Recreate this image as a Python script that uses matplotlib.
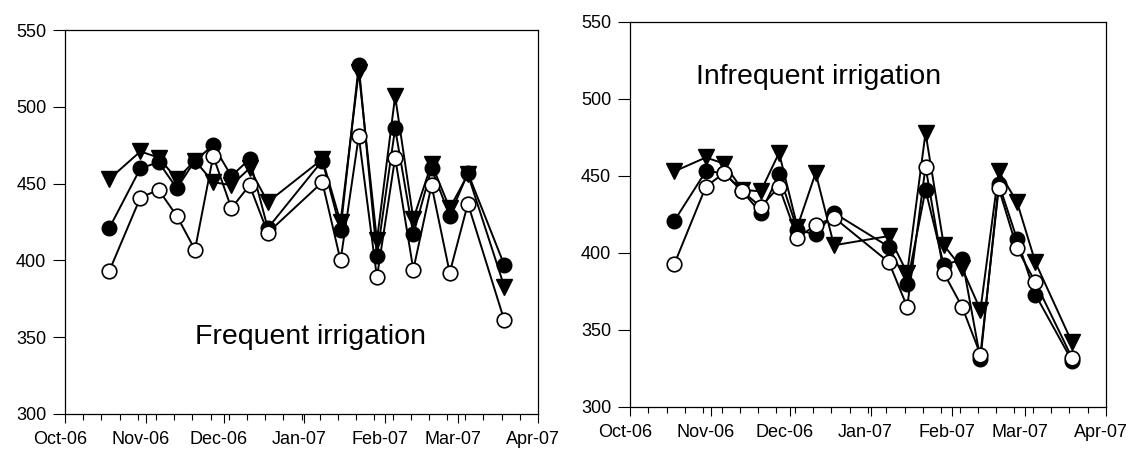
import pandas as pd
import matplotlib
matplotlib.use('Agg')
import matplotlib.pyplot as plt
import matplotlib.dates as mdates
from matplotlib.transforms import ScaledTranslation

plt.rcParams['font.family'] = ['Liberation Sans', 'DejaVu Sans']

# sampling dates (same for both treatments)
dates = ['2006-10-18', '2006-10-30', '2006-11-06', '2006-11-13', '2006-11-20',
         '2006-11-27', '2006-12-04', '2006-12-11', '2006-12-18', '2007-01-08',
         '2007-01-15', '2007-01-22', '2007-01-29', '2007-02-05', '2007-02-12',
         '2007-02-19', '2007-02-26', '2007-03-05', '2007-03-19']

# frequent irrigation
freq_tri = [453, 471, 467, 453, 465, 451, 449, 460, 438, 466,
            425, 523, 413, 507, 427, 463, 434, 456, 383]
freq_filled = [421, 460, 464, 447, 465, 475, 455, 466, 421, 465,
               420, 527, 403, 486, 417, 460, 429, 457, 397]
freq_open = [393, 441, 446, 429, 407, 468, 434, 449, 418, 451,
             400, 481, 389, 467, 394, 449, 392, 437, 361]

# infrequent irrigation
infreq_tri = [453, 462, 458, 441, 440, 465, 417, 452, 405, 411,
              387, 478, 405, 390, 363, 453, 433, 394, 342]
infreq_filled = [421, 453, 452, 440, 426, 451, 415, 412, 426, 404,
                 380, 441, 392, 396, 331, 445, 409, 373, 330]
infreq_open = [393, 443, 452, 440, 430, 443, 410, 418, 423, 394,
               365, 456, 387, 365, 334, 442, 403, 381, 332]

x = pd.to_datetime(dates)

fig = plt.figure(figsize=(11.29, 4.5), dpi=100)
ax1 = fig.add_axes([0.0576, 0.080, 0.419, 0.853])
ax2 = fig.add_axes([0.558, 0.0956, 0.4216, 0.8556])


def draw(ax, tri, filled, opn, label, tx, ty):
    ax.plot(x, tri, '-v', color='black', lw=1.4, ms=11, mfc='black',
            mec='black', zorder=2)
    ax.plot(x, filled, '-o', color='black', lw=1.4, ms=10.5, mfc='black',
            mec='black', zorder=3)
    ax.plot(x, opn, '-o', color='black', lw=1.4, ms=10.5, mfc='white',
            mec='black', mew=1.2, zorder=4)
    ax.set_ylim(300, 550)
    ax.set_yticks([300, 350, 400, 450, 500, 550])
    ax.set_xlim(pd.Timestamp('2006-10-01'), pd.Timestamp('2007-04-01'))
    ax.xaxis.set_major_locator(mdates.MonthLocator())
    ax.xaxis.set_major_formatter(mdates.DateFormatter('%b-%y'))
    ax.xaxis.set_minor_locator(mdates.WeekdayLocator(byweekday=mdates.SU))
    ax.tick_params(axis='x', which='major', direction='out', length=6.5,
                   width=0.8, labelsize=13, pad=5.5)
    ax.tick_params(axis='x', which='minor', direction='out', length=4,
                   width=0.8)
    ax.tick_params(axis='y', direction='out', length=8.5, width=0.8,
                   labelsize=13, pad=5)
    for s in ax.spines.values():
        s.set_linewidth(0.9)
    # month labels sit a little left of their ticks
    shift = ScaledTranslation(-0.05, 0, fig.dpi_scale_trans)
    for lab in ax.get_xticklabels():
        lab.set_transform(lab.get_transform() + shift)
    ax.text(tx, ty, label, transform=ax.transAxes, fontsize=20.5,
            ha='center', va='center')


draw(ax1, freq_tri, freq_filled, freq_open, 'Frequent irrigation', 0.518, 0.2)
draw(ax2, infreq_tri, infreq_filled, infreq_open, 'Infrequent irrigation', 0.397, 0.858)

fig.savefig('out.png', dpi=100)
